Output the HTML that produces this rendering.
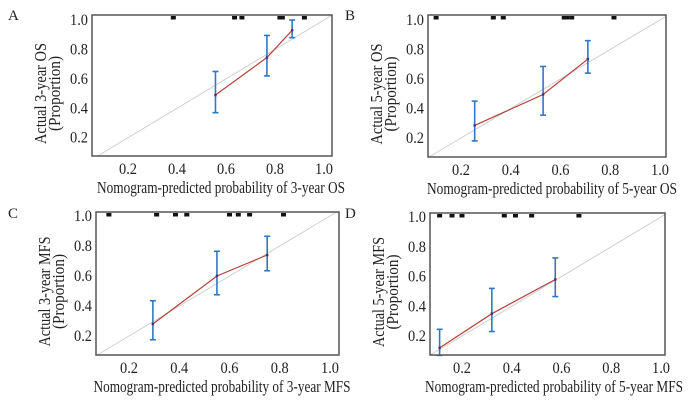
<!DOCTYPE html>
<html><head><meta charset="utf-8"><style>
html,body{margin:0;padding:0;background:#fff;}
svg{display:block;}
svg text{font-family:"Liberation Serif","Times New Roman",serif;}
</style></head><body>
<svg id="s" width="700" height="401" viewBox="0 0 700 401" font-family="Liberation Serif, serif"></svg>
<script>
const labels=["A","B","C","D"];
const xTitles=["Nomogram-predicted probability of 3-year OS","Nomogram-predicted probability of 5-year OS","Nomogram-predicted probability of 3-year MFS","Nomogram-predicted probability of 5-year MFS"];
const yTitles=["Actual 3-year OS","Actual 5-year OS","Actual 3-year MFS","Actual 5-year MFS"];
const xTicks=[0.2,0.4,0.6,0.8,1.0];
const yTicks=[0.2,0.4,0.6,0.8,1.0];
const predA=[0.557,0.767,0.87], obsA=[0.49,0.745,0.93], loA=[0.37,0.62,0.88], hiA=[0.65,0.895,1.0];
const predB=[0.255,0.53,0.71], obsB=[0.285,0.495,0.735], loB=[0.18,0.355,0.64], hiB=[0.45,0.685,0.86];
const predC=[0.295,0.55,0.75], obsC=[0.28,0.6,0.74], loC=[0.175,0.475,0.635], hiC=[0.435,0.765,0.865];
const predD=[0.11,0.32,0.575], obsD=[0.12,0.35,0.58], loD=[0.07,0.23,0.465], hiD=[0.245,0.52,0.725];
const rugA=[0.385,0.635,0.665,0.82,0.83,0.92];
const rugB=[0.1,0.33,0.37,0.615,0.625,0.645,0.815];
const rugC=[0.12,0.31,0.385,0.43,0.6,0.635,0.68,0.815];
const rugD=[0.11,0.16,0.2,0.37,0.415,0.48,0.67];
const preds=[predA,predB,predC,predD],obss=[obsA,obsB,obsC,obsD],los=[loA,loB,loC,loD],his=[hiA,hiB,hiC,hiD],rugs=[rugA,rugB,rugC,rugD];
const geo=[
 {bx0:92,bx1:332,by0:15,by1:156,x02:128,x10:324,y10:20,y02:137.7,lx:8,ly:20,xc:221,xw:248,yw:101},
 {bx0:428,bx1:666,by0:15,by1:157,x02:461,x10:660,y10:20,y02:138,lx:345,ly:20,xc:552,xw:250,yw:101},
 {bx0:96,bx1:339,by0:212,by1:355,x02:129,x10:330,y10:216,y02:336,lx:8,ly:218,xc:222,xw:257,yw:110},
 {bx0:430,bx1:665,by0:213,by1:355,x02:462,x10:661,y10:217,y02:336,lx:345,ly:218,xc:554,xw:258,yw:110}
];
const svg=document.getElementById('s');
const NS="http://www.w3.org/2000/svg";
const FF="Liberation Serif, serif";
function mk(t,a,p){const e=document.createElementNS(NS,t);for(const k in a)e.setAttribute(k,a[k]);(p||svg).appendChild(e);return e;}
geo.forEach((g,i)=>{
 const sx=v=>g.x02+(v-0.2)*(g.x10-g.x02)/0.8;
 const sy=v=>g.y02+(v-0.2)*(g.y10-g.y02)/0.8;
 const ix=v=>0.2+(v-g.x02)*0.8/(g.x10-g.x02);
 const iy=v=>0.2+(v-g.y02)*0.8/(g.y10-g.y02);
 const grp=mk('g',{'font-family':FF});
 
 
 const lab=mk('text',{x:g.lx,y:g.ly,'font-size':15,fill:'#222'},grp);lab.textContent=labels[i];
 
 
 const vmin=Math.max(ix(g.bx0),iy(g.by1)), vmax=Math.min(ix(g.bx1),iy(g.by0));
 const d=mk('line',{x1:sx(vmin),y1:sy(vmin),x2:sx(vmax),y2:sy(vmax),stroke:'#cfcfcf','stroke-width':1},grp);
 
 
 rugs[i].forEach(v=>{const r=mk('rect',{x:sx(v)-2.5,y:g.by0+1,width:5,height:3.5,fill:'#111'},grp);
  
  });
 const pts=preds[i].map((p,j)=>sx(p)+','+sy(obss[i][j])).join(' ');
 const pl=mk('polyline',{points:pts,fill:'none',stroke:'#b5413a','stroke-width':1.2},grp);
 
 
 preds[i].forEach((p,j)=>{
  const x=sx(p);
  const e=mk('g',{stroke:'#2f78c4','stroke-width':1.6},grp);
  
  
  mk('line',{x1:x,y1:sy(los[i][j]),x2:x,y2:sy(his[i][j])},e);
  mk('line',{x1:x-3,y1:sy(los[i][j]),x2:x+3,y2:sy(los[i][j])},e);
  mk('line',{x1:x-3,y1:sy(his[i][j]),x2:x+3,y2:sy(his[i][j])},e);
  const pt=mk('rect',{x:x-1.2,y:sy(obss[i][j])-1.2,width:2.4,height:2.4,fill:'#5a2a6a'},grp);
  
  
 });
 const box=mk('rect',{x:g.bx0,y:g.by0,width:g.bx1-g.bx0,height:g.by1-g.by0,fill:'none',stroke:'#555','stroke-width':1.5},grp);
 
 
 xTicks.forEach(v=>{const t=mk('text',{x:sx(v),y:g.by1+18,'text-anchor':'middle','font-size':16,fill:'#222',textLength:18,lengthAdjust:'spacingAndGlyphs'},grp);t.textContent=v.toFixed(1);
  
  });
 yTicks.forEach(v=>{const t=mk('text',{x:g.bx0-4,y:sy(v)+5,'text-anchor':'end','font-size':16,fill:'#222',textLength:18,lengthAdjust:'spacingAndGlyphs'},grp);t.textContent=v.toFixed(1);
  
  });
 const xt=mk('text',{x:g.xc,y:g.by1+37,'text-anchor':'middle','font-size':16.5,fill:'#222',textLength:g.xw,lengthAdjust:'spacingAndGlyphs'},grp);xt.textContent=xTitles[i];
 
 
 const cy=(g.by0+g.by1)/2+8;
 const yt=mk('text',{x:0,y:0,'text-anchor':'middle','font-size':16.5,fill:'#222',transform:`translate(${g.bx0-46},${cy}) rotate(-90)`},grp);
 
 
 const t1=mk('tspan',{x:0,dy:0,textLength:g.yw,lengthAdjust:'spacingAndGlyphs'},yt);t1.textContent=yTitles[i];
 const t2=mk('tspan',{x:0,dy:14,textLength:75,lengthAdjust:'spacingAndGlyphs'},yt);t2.textContent='(Proportion)';
});
</script>
</body></html>
